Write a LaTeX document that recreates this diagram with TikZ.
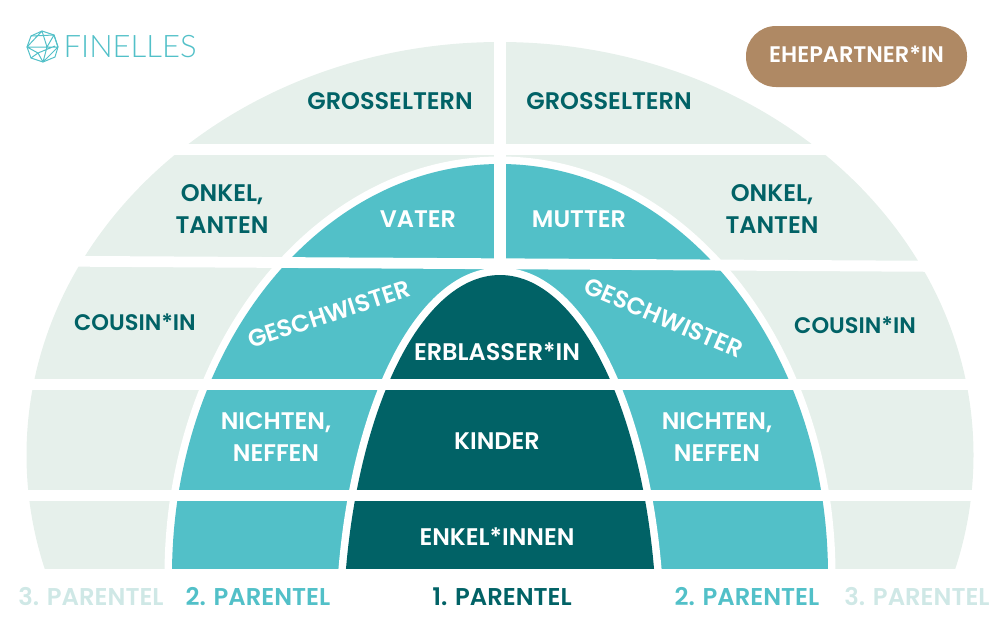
\documentclass[tikz,border=0pt]{standalone}
\usepackage{fontspec}
\setmainfont{Poppins}[UprightFont=* SemiBold]
\newfontfamily\logofont{Lato Light}
\definecolor{lightc}{HTML}{E6F0EB}
\definecolor{cyanc}{HTML}{52C0C8}
\definecolor{darkc}{HTML}{016266}
\definecolor{brownc}{HTML}{AF8964}
\definecolor{pal}{HTML}{CFE8E6}
\newcommand{\outerE}{(500,455) ellipse [x radius=473.5pt, y radius=413pt]}
\newcommand{\midE}{(500,575) ellipse [x radius=328pt, y radius=411pt]}
\newcommand{\darkE}{(500,640) ellipse [x radius=157pt, y radius=365pt]}
\tikzset{
  lbl/.style={font=\fontsize{24}{32}\selectfont, align=center, inner sep=0pt},
  smalllbl/.style={font=\fontsize{22.5}{32}\selectfont},
  dk/.style={lbl, text=darkc},
  wt/.style={lbl, text=white},
  par/.style={font=\fontsize{24.3}{24}\selectfont, inner sep=0pt},
  gap/.style={draw=white, fill=white, line width=15pt},
  logoline/.style={draw=cyanc, line width=1pt, line join=round},
}
\begin{document}
\begin{tikzpicture}[x=1pt,y=-1pt]
\useasboundingbox (0,0) rectangle (1000,625);
\begin{scope}
\clip (0,42) rectangle (1000,568.3);
\fill[lightc] \outerE;
\path[gap] \midE;
\fill[cyanc] \midE;
\path[gap] \darkE;
\fill[darkc] \darkE;
\fill[white] (0,144) rectangle (1000,155.3);
\fill[white] (0,255.5) -- (1000,261.2) -- (1000,272.2) -- (0,266.2) -- cycle;
\fill[white] (0,378.7) rectangle (1000,390);
\fill[white] (0,489.7) rectangle (1000,501.3);
\fill[white] (494,0) -- (505.7,0) -- (505.7,260) -- (494,260) -- cycle;
\end{scope}
\node[dk] (g1) at (390,101) {GROSSELTERN};
\node[dk] (g2) at (609,101) {GROSSELTERN};
\node[dk] (o1) at (222,209) {ONKEL,\\TANTEN};
\node[dk] (o2) at (772,209) {ONKEL,\\TANTEN};
\node[dk,smalllbl] (c1) at (135,322.5) {COUSIN*IN};
\node[dk,smalllbl] (c2) at (855,325.5) {COUSIN*IN};
\node[wt] (v) at (418,219) {VATER};
\node[wt] (m) at (579,219) {MUTTER};
\node[wt] (e) at (497,352) {ERBLASSER*IN};
\node[wt] (k) at (497,441) {KINDER};
\node[wt] (ek) at (497,537) {ENKEL*INNEN};
\node[wt] (n1) at (276,437) {NICHTEN,\\NEFFEN};
\node[wt] (n2) at (717,437) {NICHTEN,\\NEFFEN};
\node[wt,rotate=18] (s1) at (329,314) {GESCHWISTER};
\node[wt,rotate=-23] (s2) at (664,318) {GESCHWISTER};
\node[par,text=pal] (p3l) at (91,596.5) {3. PARENTEL};
\node[par,text=cyanc] (p2l) at (258,596.5) {2. PARENTEL};
\node[par,text=darkc] (p1) at (502,596.5) {1. PARENTEL};
\node[par,text=cyanc] (p2r) at (747,596.5) {2. PARENTEL};
\node[par,text=pal] (p3r) at (917,596.5) {3. PARENTEL};
\fill[brownc,rounded corners=30pt] (746,26) rectangle (967,87);
\node[wt,smalllbl] (pill) at (856.5,54.5) {EHEPARTNER*IN};
\node[font=\logofont\fontsize{31}{32}\selectfont,text=cyanc,inner sep=0pt,anchor=west] (logo) at (63.5,47) {FINELLES};
\draw[logoline] (42,31) -- (54,35) -- (58,47) -- (55,57) -- (43,62) -- (31,58) -- (27,47) -- (31,36) -- cycle;
\draw[logoline] (31,36) -- (54,35) -- (47,47) -- (27,47) -- (42,31) -- (47,47) -- (58,47) -- (43,62) -- (38,53) -- (55,46) (27,47) -- (38,53) -- (31,58) (54,35) -- (58,47) (47,47) -- (43,62);
\end{tikzpicture}
\end{document}
